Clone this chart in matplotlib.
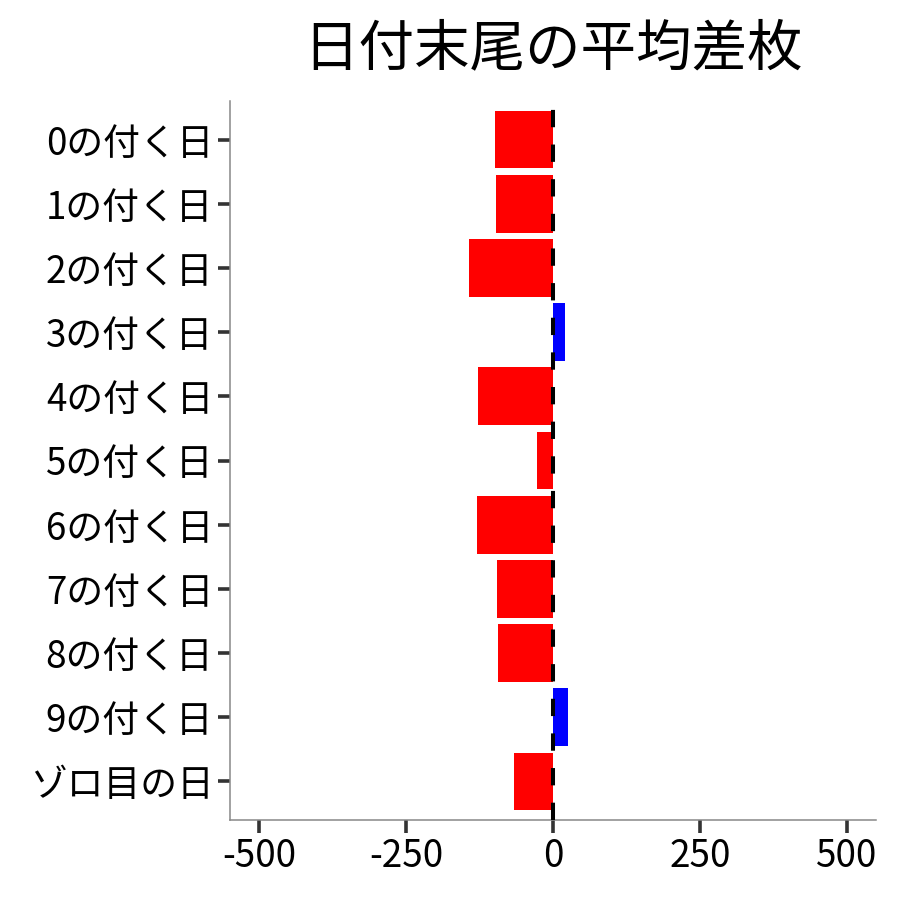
import matplotlib
matplotlib.use("Agg")
import matplotlib.pyplot as plt

plt.rcParams["font.family"] = ["Noto Sans CJK JP", "DejaVu Sans"]

categories = ["0の付く日", "1の付く日", "2の付く日", "3の付く日", "4の付く日",
              "5の付く日", "6の付く日", "7の付く日", "8の付く日", "9の付く日",
              "ゾロ目の日"]
avg_diff = [-99, -97, -143, 20, -128, -27, -129, -95, -93, 25, -66]
x_ticks = [-500, -250, 0, 250, 500]

colors = ["#0000FF" if v > 0 else "#FF0000" for v in avg_diff]
ypos = list(range(len(categories), 0, -1))

fig = plt.figure(figsize=(9, 9), dpi=100)
ax = fig.add_axes([230 / 900, 80 / 900, 646 / 900, 719 / 900])

ax.barh(ypos, avg_diff, height=0.9, color=colors, zorder=2)
ax.axvline(0, color="black", linewidth=2.9, linestyle=(0, (4.3, 4.3)), zorder=3)

ax.set_xlim(-550, 550)
ax.set_ylim(0.4, len(categories) + 0.6)
ax.set_xticks(x_ticks)
ax.set_xticklabels([str(t) for t in x_ticks])
ax.set_yticks(ypos)
ax.set_yticklabels(categories)

for side in ["top", "right"]:
    ax.spines[side].set_visible(False)
for side in ["left", "bottom"]:
    ax.spines[side].set_color("#888888")
    ax.spines[side].set_linewidth(1.1)

ax.tick_params(axis="both", length=9, width=2.6, color="#333333",
               labelsize=26.5, labelcolor="black", pad=3)

ax.set_title("日付末尾の平均差枚", fontsize=40, pad=26)

fig.savefig("out.png", dpi=100)
